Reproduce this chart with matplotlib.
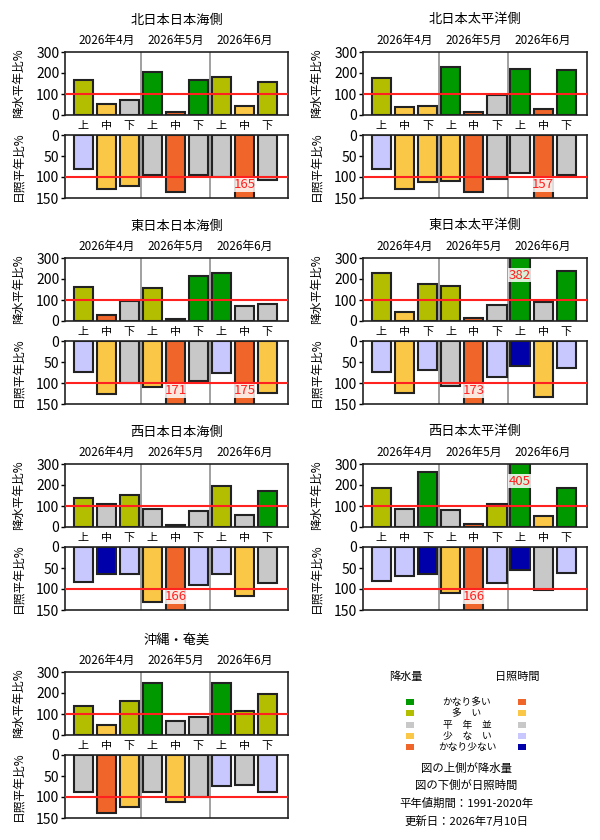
import matplotlib
matplotlib.use('Agg')
import matplotlib.pyplot as plt
import matplotlib.transforms as mtransforms
from matplotlib.patches import Rectangle

plt.rcParams['font.family'] = ['Noto Sans CJK JP', 'DejaVu Sans']

# ── data ──
regions = ['北日本日本海側', '北日本太平洋側', '東日本日本海側', '東日本太平洋側',
           '西日本日本海側', '西日本太平洋側', '沖縄・奄美']
months = ['2026年4月', '2026年5月', '2026年6月']
periods = ['上', '中', '下'] * 3

# precipitation ratio to normal (%) and class (2=かなり多い ... -2=かなり少ない)
precip = [
    [168, 54, 70, 203, 16, 165, 179, 44, 156],
    [175, 37, 44, 227, 13, 94, 221, 29, 216],
    [163, 30, 95, 156, 8, 214, 230, 73, 83],
    [230, 41, 175, 167, 12, 78, 382, 92, 237],
    [137, 110, 151, 87, 11, 78, 193, 58, 171],
    [184, 87, 263, 82, 14, 109, 405, 53, 184],
    [137, 47, 163, 248, 68, 87, 248, 115, 196],
]
precip_cls = [
    [1, -1, 0, 2, -2, 2, 1, -1, 1],
    [1, -1, -1, 2, -2, 0, 2, -2, 2],
    [1, -2, 0, 1, -2, 2, 2, 0, 0],
    [1, -1, 1, 1, -2, 0, 2, 0, 2],
    [1, 0, 1, 0, -2, 0, 1, 0, 2],
    [1, 0, 2, 0, -2, 1, 2, -1, 2],
    [1, -1, 1, 2, 0, 0, 2, 1, 1],
]
# sunshine duration ratio to normal (%) and class
sun = [
    [82, 129, 121, 96, 136, 95, 101, 165, 106],
    [82, 129, 112, 109, 135, 105, 91, 157, 95],
    [74, 125, 99, 109, 171, 95, 76, 175, 123],
    [73, 123, 70, 107, 173, 86, 60, 133, 65],
    [84, 64, 64, 130, 166, 90, 64, 116, 85],
    [81, 70, 64, 109, 166, 85, 55, 102, 62],
    [87, 138, 123, 89, 113, 100, 74, 72, 87],
]
sun_cls = [
    [-1, 1, 1, 0, 2, 0, 0, 2, 0],
    [-1, 1, 1, 1, 2, 0, 0, 2, 0],
    [-1, 1, 0, 1, 2, 0, -1, 2, 1],
    [-1, 1, -1, 0, 2, -1, -2, 1, -1],
    [-1, -2, -1, 1, 2, -1, -1, 1, 0],
    [-1, -1, -2, 1, 2, -1, -2, 0, -1],
    [0, 2, 1, 0, 1, 0, -1, 0, -1],
]
class_names = ['かなり多い', '多　い', '平　年　並', '少　な　い', 'かなり少ない']

PRECIP_COL = {2: '#009900', 1: '#B4BE00', 0: '#C8C8C8', -1: '#FAC846', -2: '#F0652A'}
SUN_COL = {2: '#F0652A', 1: '#FAC846', 0: '#C8C8C8', -1: '#C8C8FF', -2: '#0000AA'}

W, H = 600, 840
fig = plt.figure(figsize=(W / 100, H / 100), dpi=100)


def px_axes(x0, y0, x1, y1):
    return fig.add_axes([x0 / W, 1 - y1 / H, (x1 - x0) / W, (y1 - y0) / H])


cols = [(65, 288), (363, 587)]
row_tops = [52, 258, 464, 672]
PH = 63
SUN_OFF = 83
x = list(range(9))


def style(ax, ylim, ticks):
    ax.set_xlim(-0.8, 8.9)
    ax.set_ylim(*ylim)
    ax.set_yticks(ticks)
    ax.tick_params(axis='y', labelsize=10, length=3, width=1, pad=1)
    for s in ax.spines.values():
        s.set_linewidth(1.2)
        s.set_color('#222222')
    for xv in (2.5, 5.5):
        ax.axvline(xv, color='#909090', lw=1.2, zorder=0)
    ax.axhline(100, color='#FF2020', lw=1.5, zorder=5)


for i, name in enumerate(regions):
    c = cols[i % 2]
    top = row_tops[i // 2]
    axp = px_axes(c[0], top, c[1], top + PH)
    axs = px_axes(c[0], top + SUN_OFF, c[1], top + SUN_OFF + PH)

    axp.bar(x, precip[i], width=0.83, color=[PRECIP_COL[k] for k in precip_cls[i]],
            edgecolor='#222222', linewidth=1.5, zorder=2)
    style(axp, (0, 300), [0, 100, 200, 300])
    axp.set_xticks(x)
    axp.set_xticklabels(periods, fontsize=8)
    axp.tick_params(axis='x', length=0, pad=4)
    axp.set_ylabel('降水平年比%', fontsize=8.5)
    axp.yaxis.set_label_coords(-0.18, 0.5)

    axs.bar(x, sun[i], width=0.83, color=[SUN_COL[k] for k in sun_cls[i]],
            edgecolor='#222222', linewidth=1.5, zorder=2)
    style(axs, (150, 0), [0, 50, 100, 150])
    axs.set_xticks([])
    axs.set_ylabel('日照平年比%', fontsize=8.5)
    axs.yaxis.set_label_coords(-0.18, 0.5)

    # values beyond the axis range
    trp = mtransforms.blended_transform_factory(axp.transData, axp.transAxes)
    for xv, v in zip(x, precip[i]):
        if v > 300:
            axp.text(xv, 0.73, str(v), transform=trp, ha='center', va='center',
                     color='#FF2020', fontsize=9.5, zorder=6,
                     bbox=dict(facecolor='white', edgecolor='none', alpha=0.85, pad=0.5))
    trs = mtransforms.blended_transform_factory(axs.transData, axs.transAxes)
    for xv, v in zip(x, sun[i]):
        if v > 150:
            axs.text(xv, 0.21, str(v), transform=trs, ha='center', va='center',
                     color='#FF2020', fontsize=9.5, zorder=6,
                     bbox=dict(facecolor='white', edgecolor='none', alpha=0.85, pad=0.5))

    # title and month labels
    trm = mtransforms.blended_transform_factory(axp.transData, fig.transFigure)
    cx = (c[0] + c[1]) / 2 / W
    fig.text(cx, 1 - (top - 32) / H, name, ha='center', va='center', fontsize=9.5)
    for m, lab in enumerate(months):
        axp.text(3 * m + 1, 1 - (top - 12) / H, lab, transform=trm,
                 ha='center', va='center', fontsize=8.5)

# ── legend area ──
lax = fig.add_axes([0, 0, 1, 1])
lax.set_xlim(0, W)
lax.set_ylim(H, 0)
lax.axis('off')
lax.text(406, 677, '降水量', ha='center', va='center', fontsize=8)
lax.text(517, 677, '日照時間', ha='center', va='center', fontsize=8)
levels = [2, 1, 0, -1, -2]
for j, (lv, nm) in enumerate(zip(levels, class_names)):
    yy = 702 + j * 11.3
    lax.add_patch(Rectangle((406, yy - 3), 8, 6, facecolor=PRECIP_COL[lv], edgecolor='none'))
    lax.add_patch(Rectangle((517.5, yy - 3), 8, 6, facecolor=SUN_COL[lv], edgecolor='none'))
    lax.text(467, yy, nm, ha='center', va='center', fontsize=7)
notes = ['図の上側が降水量', '図の下側が日照時間', '平年値期間：1991-2020年', '更新日：2026年7月10日']
for j, t in enumerate(notes):
    lax.text(466, 768 + j * 17.7, t, ha='center', va='center', fontsize=8.2)

fig.savefig('out.png', dpi=100)
